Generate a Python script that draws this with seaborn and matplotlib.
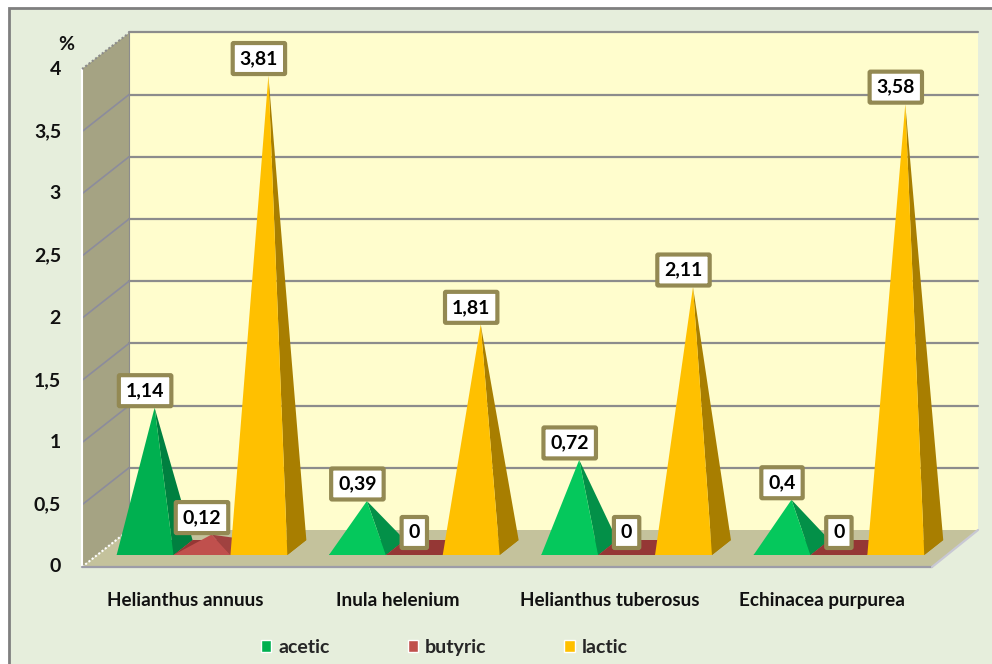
import pandas as pd
import seaborn as sns
import matplotlib.pyplot as plt
from matplotlib.patches import Polygon, Rectangle

# Dati
plants = ['Helianthus annuus', 'Inula helenium', 'Helianthus tuberosus', 'Echinacea purpurea']
acids = ['acetic', 'butyric', 'lactic']
acetic = [1.14, 0.39, 0.72, 0.4]
butyric = [0.12, 0, 0, 0]
lactic = [3.81, 1.81, 2.11, 3.58]
y_ticks = [0, 0.5, 1, 1.5, 2, 2.5, 3, 3.5, 4]
y_labels = ['0', '0,5', '1', '1,5', '2', '2,5', '3', '3,5', '4']

# Colori
legend_colors = ['#00B050', '#C0504D', '#FFC000']
front_colors = {
    'acetic': ['#00B050', '#05C85C', '#05C85C', '#05C85C'],
    'butyric': ['#C0504D'] * 4,
    'lactic': ['#FFC000'] * 4,
}
side_colors = {
    'acetic': ['#008040', '#039048', '#039048', '#039048'],
    'butyric': ['#A04240'] * 4,
    'lactic': ['#A87E00'] * 4,
}
floor_colors = {'acetic': '#007A3A', 'butyric': '#953735', 'lactic': '#A87E00'}

df = pd.DataFrame({
    'plant': plants * 3,
    'acid': [a for a in acids for _ in plants],
    'value': acetic + butyric + lactic,
})

# Scala: pixel per categoria e pixel per unita'
PX_X = 212.3
PX_Y = 124.4
X0 = 202
Y0 = 549.5


def fx(px):
    return (px - X0) / PX_X


def fy(py):
    return (Y0 - py) / PX_Y


sns.set_style('white')
plt.rcParams['font.family'] = ['Lato', 'DejaVu Sans']
plt.rcParams['font.weight'] = 'bold'

fig = plt.figure(figsize=(9.92, 6.64), dpi=100, facecolor='white')
ax = fig.add_axes([0, 0, 1, 1])

# Le barre di seaborn danno posizioni e legenda, poi diventano piramidi
sns.barplot(data=df, x='plant', y='value', hue='acid', order=plants, hue_order=acids,
            palette=legend_colors, saturation=1, width=0.804, gap=0, errorbar=None, ax=ax)

ax.set_xlim(fx(0), fx(992))
ax.set_ylim(fy(664), fy(0))
ax.axis('off')

# Sfondo e cornice
ax.add_patch(Rectangle((fx(9), fy(700)), fx(1100) - fx(9), fy(8) - fy(700),
                       fc='#E6EEDC', ec='#7F7F7F', lw=2, zorder=0))

# Pareti e pavimento
ax.add_patch(Polygon([(fx(129), fy(33)), (fx(978), fy(33)), (fx(978), fy(530)), (fx(129), fy(530))],
                     fc='#FFFDCD', ec='none', zorder=1))
ax.add_patch(Polygon([(fx(82), fy(69)), (fx(129), fy(33)), (fx(129), fy(530)), (fx(82), fy(567))],
                     fc='#A5A383', ec='none', zorder=1))
ax.add_patch(Polygon([(fx(82), fy(567)), (fx(932), fy(567)), (fx(978), fy(530)), (fx(129), fy(530))],
                     fc='#C4C29C', ec='none', zorder=1))

# Griglia e tick
for tick, label in zip(y_ticks, y_labels):
    back = fy(530) + tick
    front = fy(567) + tick
    if tick > 0:
        ax.plot([fx(129), fx(978)], [back, back], color='#8C8C8C', lw=1.6, zorder=2)
    if 0 < tick < 4:
        ax.plot([fx(82), fx(129)], [front, back], color='#8C8C9C', lw=1.2, zorder=2)
    ax.text(fx(61), front, label, ha='right', va='center', fontsize=14, color='#111111', zorder=5)

ax.plot([fx(82), fx(82)], [fy(69), fy(567)], color='white', lw=1.5, zorder=2)
ax.plot([fx(82), fx(129)], [fy(69), fy(33)], color='#8C8C8C', lw=1.5, ls=(0, (1, 1)), zorder=2)
ax.plot([fx(82), fx(129)], [fy(567), fy(530)], color='white', lw=1.5, ls=(0, (1, 1)), zorder=2)
ax.plot([fx(129), fx(129)], [fy(33), fy(530)], color='#8C8C8C', lw=0.8, zorder=2)
ax.plot([fx(82), fx(932)], [fy(567), fy(567)], color='#9C9CA8', lw=1.6, zorder=2)
ax.plot([fx(932), fx(978)], [fy(567), fy(530)], color='#C8C8D4', lw=1.6, zorder=2)
ax.text(fx(66), fy(45), '%', ha='center', va='center', fontsize=14, color='#111111', zorder=5)

# Piramidi ricavate dalle barre
base_front = fy(555)
base_back = fy(540)
dx = 19 / PX_X
for acid, container in zip(acids, ax.containers):
    for i, bar in enumerate(container):
        bar.set_visible(False)
        x0 = bar.get_x()
        x1 = x0 + bar.get_width()
        v = bar.get_height()
        apex = (x0 + bar.get_width() / 2 + dx / 2, v)
        ax.add_patch(Polygon([(x0, base_front), (x1, base_front), (x1 + dx, base_back), (x0 + dx, base_back)],
                             fc=floor_colors[acid], ec='none', zorder=3))
        if v > 0:
            ax.add_patch(Polygon([(x1, base_front), (x1 + dx, base_back), apex],
                                 fc=side_colors[acid][i], ec='none', zorder=3))
            ax.add_patch(Polygon([(x0, base_front), (x1, base_front), apex],
                                 fc=front_colors[acid][i], ec='none', zorder=3))

# Etichette dei valori
for acid, container in zip(acids, ax.containers):
    for bar in container:
        v = bar.get_height()
        ax.text(bar.get_x() + bar.get_width() / 2, v + 17 / PX_Y, f'{v:g}'.replace('.', ','),
                ha='center', va='center', fontsize=14, color='black', zorder=6,
                bbox=dict(boxstyle='round,pad=0.36,rounding_size=0.05', fc='white', ec='#938953', lw=3))

# Nomi delle categorie
for i, plant in enumerate(plants):
    ax.text(fx(185) + i, fy(600.5), plant, ha='center', va='center', fontsize=13.6, color='#111111', zorder=5)

# Legenda
sns.move_legend(ax, 'center', bbox_to_anchor=(0.448, 0.025), ncol=3, title=None, frameon=False,
                fontsize=14, handlelength=0.55, handleheight=0.55, handletextpad=0.36, columnspacing=4.0)

plt.savefig('out.png', dpi=100, facecolor='white')
